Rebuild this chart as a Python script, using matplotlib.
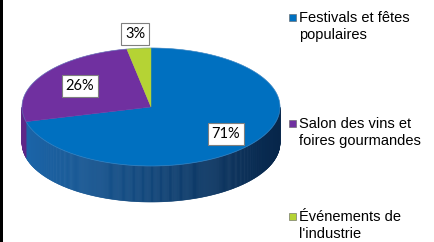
import numpy as np
import matplotlib
matplotlib.use("Agg")
import matplotlib.pyplot as plt
from matplotlib.patches import Polygon, Rectangle
from matplotlib.colors import to_rgb

# data
categories = [["Festivals et fêtes", "populaires"],
              ["Salon des vins et", "foires gourmandes"],
              ["Événements de", "l'industrie"]]
values = [71, 26, 3]
colors = ["#0070C0", "#7030A0", "#B5D334"]
side_left = ["#1c66aa", "#5e2888", "#95ae2a"]
side_right = ["#07264a", "#3a1660", "#6a7d1c"]
pct_labels = ["71%", "26%", "3%"]

W, H = 434, 242
fig = plt.figure(figsize=(W / 100, H / 100), dpi=100)
ax = fig.add_axes([0, 0, 1, 1])
ax.set_xlim(0, W)
ax.set_ylim(H, 0)
ax.axis("off")

# pie geometry (pixels)
cx, cy, rx, ry, depth = 151, 107, 129, 59, 36


def pt(theta, dy=0):
    t = np.radians(theta)
    return cx + rx * np.cos(t), cy - ry * np.sin(t) + dy


# wedge angles, clockwise from 12 o'clock
fr = np.array(values) / sum(values)
starts = 90 - 360 * np.concatenate([[0], np.cumsum(fr)[:-1]])
ends = starts - 360 * fr

# side of the cake (front half only)
for s, e, cl, cr in zip(starts, ends, side_left, side_right):
    lo, hi = min(s, e), max(s, e)
    for shift in (0, -360, 360):
        a0, a1 = max(lo + shift, -180), min(hi + shift, 0)
        if a1 <= a0:
            continue
        n = max(int((a1 - a0) * 2), 2)
        th = np.linspace(a0, a1, n + 1)
        for i in range(n):
            x0, y0 = pt(th[i])
            x1, y1 = pt(th[i + 1])
            f = ((x0 + x1) / 2 - (cx - rx)) / (2 * rx)
            c = (1 - f) * np.array(to_rgb(cl)) + f * np.array(to_rgb(cr))
            ax.add_patch(Polygon([(x0, y0), (x1, y1), (x1, y1 + depth), (x0, y0 + depth)],
                                 closed=True, fc=c, ec=c, lw=0.4))

# top face
for s, e, col in zip(starts, ends, colors):
    th = np.linspace(s, e, 200)
    verts = [(cx, cy)] + [pt(t) for t in th]
    ax.add_patch(Polygon(verts, closed=True, fc=col, ec=col, lw=0.3))

# rim highlight
th = np.linspace(0, 360, 400)
ax.plot([pt(t)[0] for t in th], [pt(t)[1] for t in th], color="#5a8fc4", lw=0.6, alpha=0.5)

# percent labels
label_pos = [(226, 134), (80, 86), (135, 34)]
for txt, (x, y) in zip(pct_labels, label_pos):
    ax.text(x, y, txt, ha="center", va="center", fontsize=10.5, family="Lato",
            color="#000000",
            bbox=dict(boxstyle="square,pad=0.25", fc="white", ec="#7f7f7f", lw=0.8))

# legend
leg_base = [22, 128, 221]
for lines, col, yb in zip(categories, colors, leg_base):
    ax.add_patch(Rectangle((289, yb - 8), 7, 7, fc=col, ec="#606060", lw=0.4))
    for k, line in enumerate(lines):
        ax.text(299, yb + 17 * k, line, ha="left", va="baseline", fontsize=10.5,
                family="Liberation Sans", color="#000000")

# dark strip at the left edge
ax.add_patch(Rectangle((0, 0), 3, H, fc="black", ec="none"))

fig.savefig("out.png", dpi=100)
